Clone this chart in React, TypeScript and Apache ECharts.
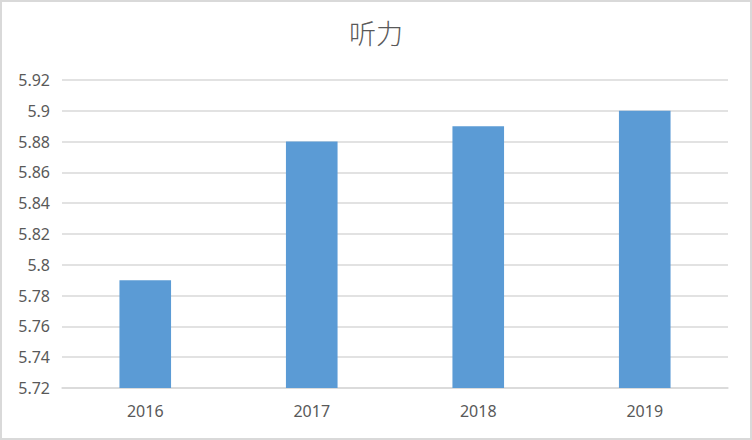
import { useEffect, useRef } from "react";
import * as echarts from "echarts";

const years = ["2016", "2017", "2018", "2019"];
const scores = [5.79, 5.88, 5.89, 5.9];
const chartTitle = "听力";
const yMin = 5.72;
const yMax = 5.92;
const yStep = 0.02;

export default function App() {
  const chartRef = useRef<HTMLDivElement>(null);

  useEffect(() => {
    if (!chartRef.current) return;
    const chart = echarts.init(chartRef.current, undefined, { renderer: "svg" });

    chart.setOption({
      animation: false,
      backgroundColor: "#ffffff",
      textStyle: { fontFamily: "Noto Sans, Noto Sans CJK SC, sans-serif" },
      title: {
        text: chartTitle,
        left: "center",
        top: 14,
        textStyle: {
          color: "#595959",
          fontSize: 27,
          fontWeight: 300,
          fontFamily: "Noto Sans CJK SC, sans-serif",
        },
      },
      grid: { left: 62, right: 24, top: 80, bottom: 52 },
      xAxis: {
        type: "category",
        data: years,
        axisTick: { show: false },
        axisLine: { lineStyle: { color: "#d9d9d9", width: 1.5 } },
        axisLabel: { color: "#595959", fontSize: 16, margin: 15 },
      },
      yAxis: {
        type: "value",
        min: yMin,
        max: yMax,
        interval: yStep,
        axisLine: { show: false },
        axisTick: { show: false },
        axisLabel: {
          color: "#595959",
          fontSize: 16,
          margin: 12,
          formatter: (v: number) => String(parseFloat(v.toFixed(2))),
        },
        splitLine: { lineStyle: { color: "#d9d9d9", width: 1.5 } },
      },
      series: [
        {
          type: "bar",
          data: scores,
          barWidth: "31%",
          itemStyle: { color: "#5b9bd5" },
        },
      ],
    });

    return () => chart.dispose();
  }, []);

  return (
    <div
      style={{
        position: "fixed",
        left: 0,
        top: 0,
        width: 752,
        height: 440,
        background: "#fff",
      }}
    >
      <div ref={chartRef} style={{ position: "absolute", left: 0, top: 0, width: 752, height: 440 }} />
      <div
        style={{
          position: "absolute",
          left: 0,
          top: 0,
          width: 752,
          height: 440,
          boxSizing: "border-box",
          border: "2px solid #d9d9d9",
          pointerEvents: "none",
        }}
      />
    </div>
  );
}
